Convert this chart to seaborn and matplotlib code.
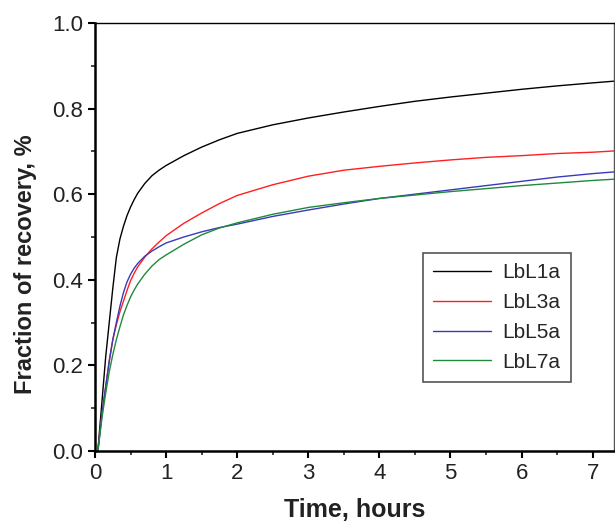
import numpy as np
import pandas as pd
import matplotlib
matplotlib.use("Agg")
import matplotlib.pyplot as plt
from matplotlib.ticker import MultipleLocator
import seaborn as sns

# time points (hours)
hours = [0.04, 0.1, 0.15, 0.2, 0.25, 0.3, 0.35, 0.4, 0.45, 0.5, 0.55, 0.6, 0.7, 0.8, 0.9,
         1.0, 1.25, 1.5, 1.75, 2.0, 2.5, 3.0, 3.5, 4.0, 4.5, 5.0, 5.5, 6.0, 6.5, 7.0, 7.3]

# fraction of recovery per film
lbl1a = [0.0, 0.12, 0.22, 0.30, 0.38, 0.452, 0.495, 0.525, 0.55, 0.57, 0.587, 0.602, 0.625,
         0.643, 0.656, 0.667, 0.69, 0.71, 0.727, 0.742, 0.762, 0.778, 0.792, 0.805, 0.817,
         0.827, 0.836, 0.845, 0.853, 0.86, 0.864]
lbl3a = [0.0, 0.09, 0.15, 0.21, 0.26, 0.295, 0.325, 0.35, 0.375, 0.398, 0.415, 0.43, 0.453,
         0.472, 0.488, 0.503, 0.532, 0.556, 0.578, 0.597, 0.622, 0.642, 0.656, 0.665, 0.673,
         0.68, 0.686, 0.69, 0.695, 0.698, 0.701]
lbl5a = [0.0, 0.09, 0.15, 0.21, 0.26, 0.30, 0.338, 0.37, 0.395, 0.413, 0.427, 0.438, 0.455,
         0.467, 0.477, 0.486, 0.50, 0.512, 0.522, 0.53, 0.548, 0.563, 0.577, 0.59, 0.60,
         0.61, 0.62, 0.63, 0.64, 0.648, 0.652]
lbl7a = [0.0, 0.08, 0.135, 0.185, 0.225, 0.26, 0.29, 0.318, 0.34, 0.36, 0.376, 0.39, 0.413,
         0.432, 0.447, 0.458, 0.483, 0.505, 0.521, 0.533, 0.553, 0.569, 0.58, 0.59, 0.598,
         0.606, 0.613, 0.62, 0.626, 0.632, 0.635]

names = ["LbL1a", "LbL3a", "LbL5a", "LbL7a"]
colors = {"LbL1a": "black", "LbL3a": "#ff1f1f", "LbL5a": "#3a3ab8", "LbL7a": "#1f8a3c"}

df = pd.concat([
    pd.DataFrame({"time": hours, "frac": vals, "film": name})
    for name, vals in zip(names, [lbl1a, lbl3a, lbl5a, lbl7a])
])

sns.set_style("ticks")
plt.rcParams["font.family"] = ["Liberation Sans", "DejaVu Sans"]

fig = plt.figure(figsize=(6.15, 5.23), dpi=100)
ax = fig.add_axes([0.1545, 0.1377, 0.8439, 0.8184])

sns.lineplot(data=df, x="time", y="frac", hue="film", palette=colors,
             estimator=None, linewidth=1.0, ax=ax)

ax.set_xlim(0, 7.3)
ax.set_ylim(0, 1.0)
ax.xaxis.set_major_locator(MultipleLocator(1))
ax.xaxis.set_minor_locator(MultipleLocator(0.5))
ax.yaxis.set_major_locator(MultipleLocator(0.2))
ax.yaxis.set_minor_locator(MultipleLocator(0.1))
ax.tick_params(which="major", direction="out", length=5, width=1.5, labelsize=16, colors="black", labelcolor="#222222")
ax.tick_params(which="minor", direction="out", length=3, width=1.2)

for side in ["left", "bottom"]:
    ax.spines[side].set_linewidth(1.8)
    ax.spines[side].set_color("black")
for side in ["top", "right"]:
    ax.spines[side].set_linewidth(1.0)
ax.spines["top"].set_color("black")
ax.spines["right"].set_color("#555555")

ax.set_xlabel("Time, hours", fontsize=18, fontweight="bold", color="#222222", labelpad=10)
ax.set_ylabel("Fraction of recovery, %", fontsize=17, fontweight="bold", color="#222222")
ax.yaxis.set_label_coords(-0.112, 0.437)

handles, labels = ax.get_legend_handles_labels()
leg = ax.legend(handles, labels, loc="upper left", bbox_to_anchor=(0.631, 0.463),
                borderaxespad=0, fontsize=15, frameon=True, fancybox=False,
                edgecolor="#555555", framealpha=1, handlelength=2.8,
                handletextpad=0.55, labelspacing=0.52, borderpad=0.5)
leg.get_frame().set_linewidth(1.2)

fig.savefig("out.png", dpi=100)
